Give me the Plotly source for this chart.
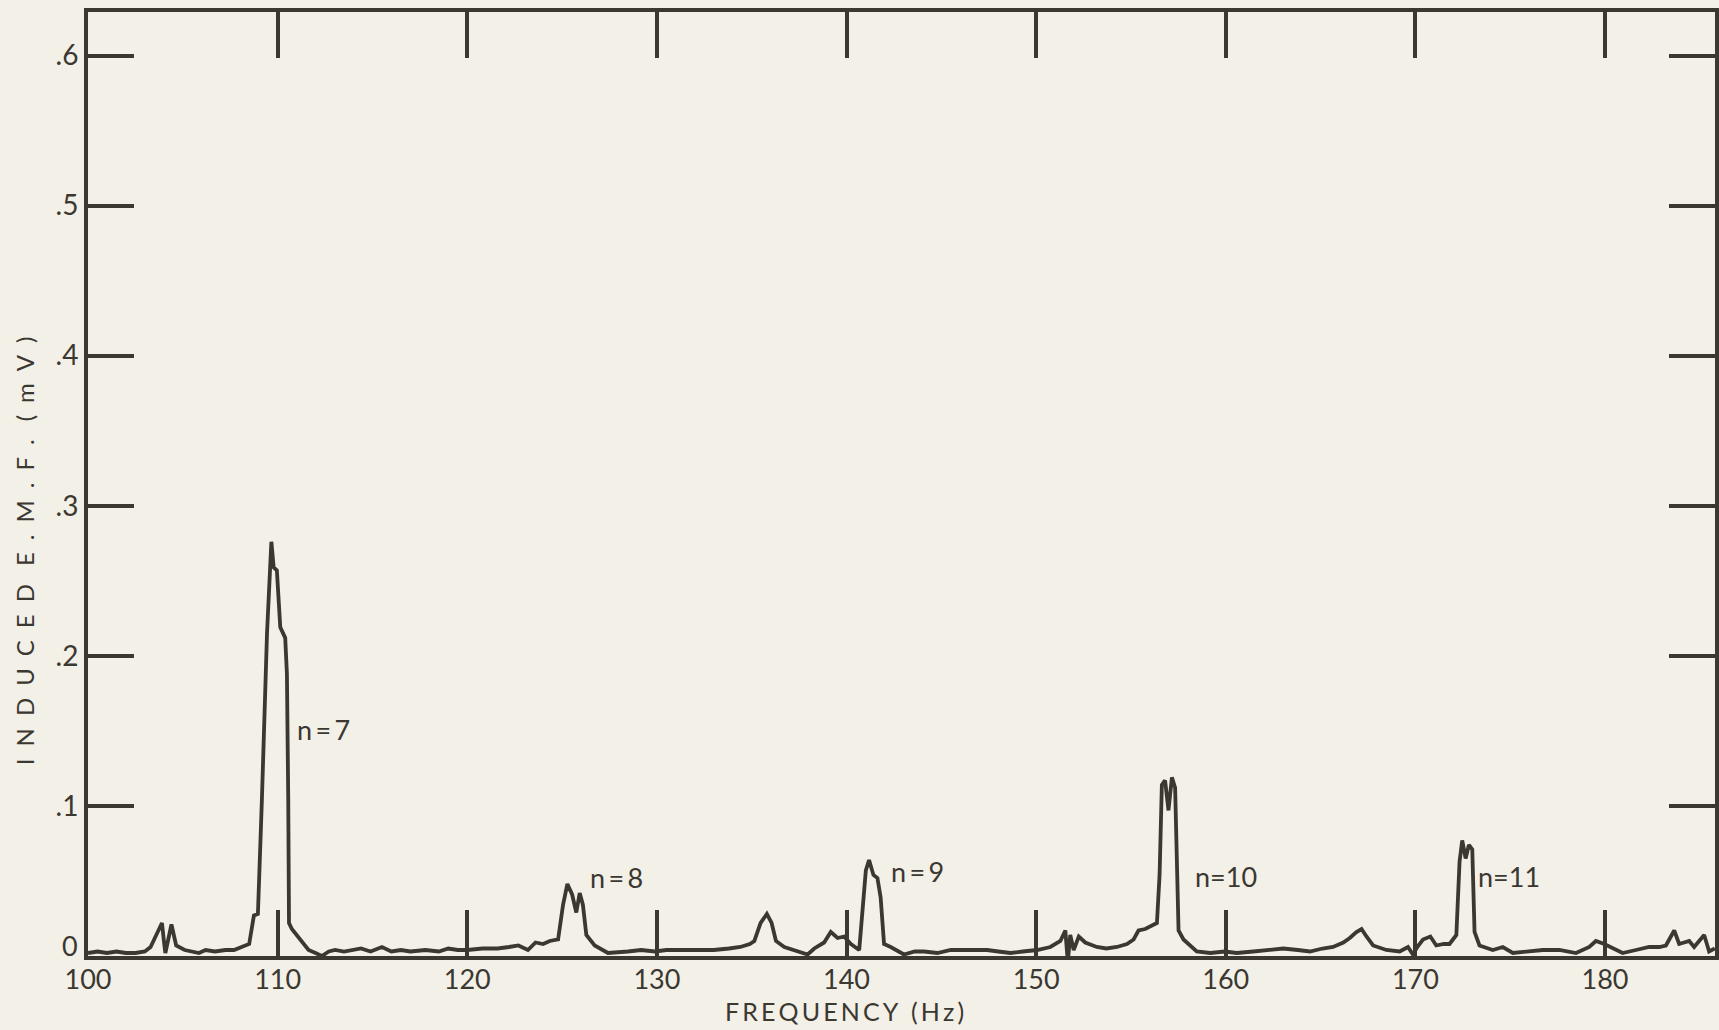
import plotly.graph_objects as go

# ---- data ----
freq = [100.0, 100.5, 101.0, 101.5, 102.0, 102.5, 103.0, 103.3, 103.6, 103.9,
        104.02, 104.08, 104.4, 104.65, 105.1, 105.85, 106.2, 106.7, 107.25, 107.7,
        108.1, 108.5, 108.75, 108.96, 109.17, 109.44, 109.67, 109.79, 109.96, 110.14,
        110.4, 110.49, 110.56, 110.6, 110.75, 111.27, 111.63, 112.0, 112.33, 112.7,
        113.03, 113.5, 114.0, 114.4, 114.9, 115.5, 116.0, 116.5, 117.0, 117.8,
        118.5, 119.0, 119.5, 120.0, 120.8, 121.6, 122.2, 122.7, 123.2, 123.6,
        124.0, 124.35, 124.79, 125.05, 125.28, 125.53, 125.75, 125.93, 126.1, 126.28,
        126.72, 127.42, 128.47, 129.17, 129.9, 130.5, 131.27, 132.2, 133.0, 133.8,
        134.4, 134.9, 135.14, 135.47, 135.8, 136.05, 136.28, 136.72, 137.2, 137.6,
        137.95, 138.3, 138.82, 139.17, 139.53, 139.87, 140.23, 140.67, 140.84, 141.02,
        141.19, 141.42, 141.63, 141.8, 141.98, 142.33, 143.03, 143.6, 144.09, 144.79,
        145.5, 146.19, 146.8, 147.42, 148.0, 148.65, 149.3, 150.05, 150.75, 151.28,
        151.54, 151.67, 151.8, 151.98, 152.25, 152.59, 153.2, 153.7, 154.26, 154.79,
        155.14, 155.4, 155.75, 156.1, 156.37, 156.51, 156.63, 156.8, 156.98, 157.16,
        157.33, 157.51, 157.77, 158.47, 159.18, 159.95, 160.58, 161.45, 162.2, 163.03,
        163.8, 164.44, 165.1, 165.66, 166.2, 166.54, 166.89, 167.16, 167.42, 167.77,
        168.47, 169.17, 169.61, 169.87, 170.1, 170.4, 170.79, 171.1, 171.5, 171.8,
        172.16, 172.33, 172.47, 172.65, 172.82, 173.0, 173.12, 173.38, 174.08, 174.61,
        175.14, 175.9, 176.72, 177.59, 178.47, 179.17, 179.52, 179.96, 180.4, 180.93,
        181.63, 182.33, 182.86, 183.21, 183.65, 183.91, 184.44, 184.7, 185.23, 185.49,
        185.79]

emf = [0.002, 0.003, 0.002, 0.003, 0.002, 0.002, 0.003, 0.006, 0.014, 0.022,
       0.008, 0.002, 0.021, 0.007, 0.004, 0.002, 0.004, 0.003, 0.004, 0.004,
       0.006, 0.008, 0.027, 0.028, 0.104, 0.215, 0.276, 0.259, 0.257, 0.219,
       0.212, 0.188, 0.104, 0.022, 0.018, 0.010, 0.004, 0.002, 0.000, 0.003,
       0.004, 0.003, 0.004, 0.005, 0.003, 0.006, 0.003, 0.004, 0.003, 0.004,
       0.003, 0.005, 0.004, 0.004, 0.005, 0.005, 0.006, 0.007, 0.004, 0.009,
       0.008, 0.010, 0.011, 0.034, 0.048, 0.041, 0.029, 0.042, 0.034, 0.014,
       0.007, 0.002, 0.003, 0.004, 0.003, 0.004, 0.004, 0.004, 0.004, 0.005,
       0.006, 0.008, 0.010, 0.022, 0.028, 0.022, 0.010, 0.006, 0.004, 0.002,
       0.001, 0.005, 0.009, 0.016, 0.012, 0.013, 0.008, 0.004, 0.032, 0.057,
       0.064, 0.054, 0.052, 0.039, 0.008, 0.006, 0.001, 0.003, 0.003, 0.002,
       0.004, 0.004, 0.004, 0.004, 0.003, 0.002, 0.003, 0.004, 0.006, 0.010,
       0.017, -0.004, 0.014, 0.004, 0.013, 0.009, 0.006, 0.005, 0.006, 0.008,
       0.011, 0.017, 0.018, 0.020, 0.022, 0.054, 0.114, 0.117, 0.097, 0.119,
       0.112, 0.017, 0.011, 0.003, 0.002, 0.003, 0.002, 0.003, 0.004, 0.005,
       0.004, 0.003, 0.005, 0.006, 0.009, 0.012, 0.016, 0.018, 0.013, 0.007,
       0.004, 0.003, 0.006, 0.001, 0.006, 0.011, 0.013, 0.007, 0.008, 0.008,
       0.014, 0.063, 0.077, 0.065, 0.074, 0.071, 0.016, 0.007, 0.004, 0.006,
       0.002, 0.003, 0.004, 0.004, 0.002, 0.006, 0.010, 0.008, 0.005, 0.002,
       0.004, 0.006, 0.006, 0.007, 0.017, 0.008, 0.010, 0.006, 0.014, 0.003,
       0.005]

x_ticks = [100, 110, 120, 130, 140, 150, 160, 170, 180]
x_tick_labels = ["100", "110", "120", "130", "140", "150", "160", "170", "180"]
y_ticks = [0, 0.1, 0.2, 0.3, 0.4, 0.5, 0.6]
y_tick_labels = ["", ".1", ".2", ".3", ".4", ".5", ".6"]
y_zero_label = "0"

peak_labels = ["n\u2009=\u20097", "n\u2009=\u20098", "n\u2009=\u20099", "n=10", "n=11"]
peak_label_freq = [112.4, 127.85, 143.75, 160.0, 174.95]
peak_label_emf = [0.151, 0.052, 0.056, 0.053, 0.053]

# ---- style ----
W, H = 1719, 1030
L, R, T, B = 88, 0, 12, 74
PW, PH = W - L - R, H - T - B
INK = "#3b3731"
PAPER = "#f2f0e7"
FONT = "Lato, 'Noto Sans', sans-serif"


def px_x(px):
    return (px - L) / PW


def px_y(py):
    return (H - B - py) / PH


fig = go.Figure()
fig.add_trace(go.Scatter(x=freq, y=emf, mode="lines",
                         line=dict(color=INK, width=3.8),
                         hoverinfo="x+y", showlegend=False))

for txt, fx, fy in zip(peak_labels, peak_label_freq, peak_label_emf):
    fig.add_annotation(x=fx, y=fy, xref="x", yref="y", text=txt,
                       showarrow=False, xanchor="center", yanchor="middle",
                       font=dict(family=FONT, size=27, color=INK))

fig.add_annotation(x=px_x(70), y=px_y(945), xref="paper", yref="paper",
                   text=y_zero_label, showarrow=False,
                   xanchor="center", yanchor="middle",
                   font=dict(family=FONT, size=27, color=INK))

ytitle = "\u2003".join("\u2002".join(w) for w in ["INDUCED", "E.M.F.", "(mV)"])
fig.add_annotation(x=px_x(24), y=px_y(551), xref="paper", yref="paper",
                   text=ytitle, textangle=-90, showarrow=False,
                   xanchor="center", yanchor="middle",
                   font=dict(family=FONT, size=24, color=INK))
xtitle = "\u2009".join("FREQUENCY") + "\u2002" + "\u2009".join("(Hz)")
fig.add_annotation(x=px_x(846), y=px_y(1011), xref="paper", yref="paper",
                   text=xtitle, showarrow=False,
                   xanchor="center", yanchor="middle",
                   font=dict(family=FONT, size=25, color=INK))

axis_common = dict(showgrid=False, zeroline=False, showline=True,
                   linecolor=INK, linewidth=4, mirror="ticks",
                   ticks="inside", ticklen=46, tickwidth=4, tickcolor=INK)

fig.update_xaxes(range=[100, 185.8], tickmode="array", tickvals=x_ticks,
                 ticktext=x_tick_labels, ticklabelstandoff=-3,
                 tickfont=dict(family=FONT, size=27, color=INK), **axis_common)
fig.update_yaxes(range=[0, 0.629], tickmode="array", tickvals=y_ticks,
                 ticktext=y_tick_labels,
                 tickfont=dict(family=FONT, size=28, color=INK), **axis_common)

fig.update_layout(width=W, height=H,
                  margin=dict(l=L, r=R, t=T, b=B, pad=0),
                  paper_bgcolor=PAPER, plot_bgcolor=PAPER,
                  font=dict(family=FONT, color=INK))

fig.write_html("out.html",
               config={"displayModeBar": False},
               post_script="document.body.style.margin='0';"
                           "document.body.style.overflow='hidden';"
                           "document.body.style.background='" + PAPER + "';")
